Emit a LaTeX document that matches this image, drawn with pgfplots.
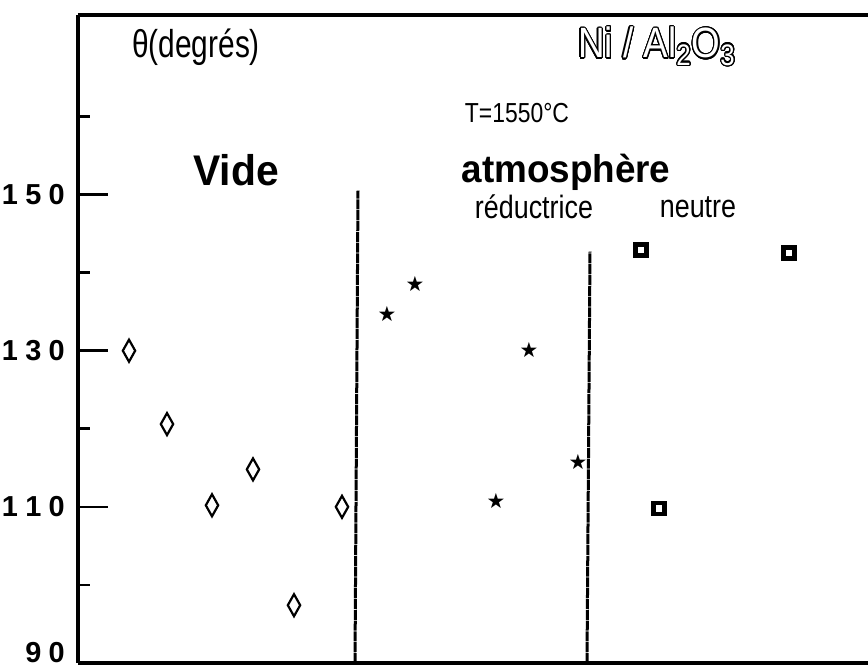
\documentclass[border=0pt]{standalone}
\usepackage{fontspec}
\setmainfont{Liberation Sans}
\newfontfamily\symfont{DejaVu Sans}
\usepackage{contour}
\contourlength{0.6pt}
\contournumber{24}
\usepackage{pgfplots}
\pgfplotsset{compat=1.18}
\newcommand{\sy}[2][1.25]{\scalebox{1}[#1]{#2}}
\begin{document}
\begin{tikzpicture}
\begin{axis}[
  scale only axis=true,
  width=395bp, height=324bp,
  xmin=78, xmax=868,
  ymin=90, ymax=173,
  axis x line=box,
  axis y line=left,
  x axis line style={-},
  y axis line style={-},
  axis line style={line width=1.6bp},
  xtick=\empty,
  ytick={110,130,150},
  yticklabels={1\kern3.6bp 1\kern3.6bp 0,1\kern3.6bp 3\kern3.6bp 0,1\kern3.6bp 5\kern3.6bp 0},
  extra y ticks={90},
  extra y tick labels={9\kern3.6bp 0},
  extra y tick style={major tick length=0pt, yticklabel style={yshift=5bp}},
  minor ytick={100,120,140,160},
  tick align=inside,
  major tick length=15bp,
  minor tick length=6bp,
  every tick/.style={line width=1.3bp, black},
  yticklabel style={font=\fontsize{14.5}{14.5}\selectfont\bfseries, inner sep=0pt, xshift=-6.5bp},
  clip=false,
]
\coordinate (sw) at (rel axis cs:0,0);
\coordinate (ne) at (rel axis cs:1,1);
% separators
\addplot[line width=1.5bp, dash pattern=on 5bp off 0.4bp] coordinates {(355,90) (358,150.5)};
\addplot[line width=1.5bp, dash pattern=on 5bp off 0.4bp] coordinates {(587,90) (590,142.7)};
% Vide
\addplot[only marks, mark=diamond, mark size=5.5bp, mark options={xscale=0.75, line width=1.1bp, black}] coordinates {
(129,130) (167,120.6) (212,110.2) (253,114.8) (294,97.4) (342,110)};
% atmosphere reductrice
\addplot[only marks, mark=text, text mark={\fontsize{10.5}{10.5}\selectfont\symfont ★}] coordinates {
(387,134.7) (415,138.6) (529,130.1) (496,110.7) (578,115.7)};
% atmosphere neutre
\addplot[only marks, mark=square, mark size=2.7bp, mark options={line width=2.3bp, black}] coordinates {
(641,142.9) (789,142.5) (659,109.8)};
% texts
\node[font=\fontsize{15}{15}\selectfont] at (axis cs:196,168.9) {\sy[1.3]{θ(degrés)}};
\node[font=\fontsize{18.5}{18.5}\selectfont] at (axis cs:657,168.9) {\sy[1.15]{\contour{black}{\textcolor{white}{Ni / Al\textsubscript{2}O\textsubscript{3}}}}};
\node[font=\fontsize{11.5}{11.5}\selectfont] at (axis cs:517,160.4) {\sy[1.2]{T=1550°C}};
\node[font=\fontsize{20.5}{20.5}\selectfont\bfseries] at (axis cs:236,153.1) {\sy[1.05]{Vide}};
\node[font=\fontsize{18.5}{18.5}\selectfont\bfseries] at (axis cs:566,152.9) {\sy[1.05]{atmosphère}};
\node[font=\fontsize{13.5}{13.5}\selectfont] at (axis cs:534,148.4) {\sy[1.2]{réductrice}};
\node[font=\fontsize{13.5}{13.5}\selectfont] at (axis cs:698,148.4) {\sy[1.2]{neutre}};
\end{axis}
\pgfresetboundingbox
\path ([xshift=-39bp,yshift=-2.5bp]sw) rectangle ([yshift=7.5bp]ne);
\end{tikzpicture}
\end{document}
